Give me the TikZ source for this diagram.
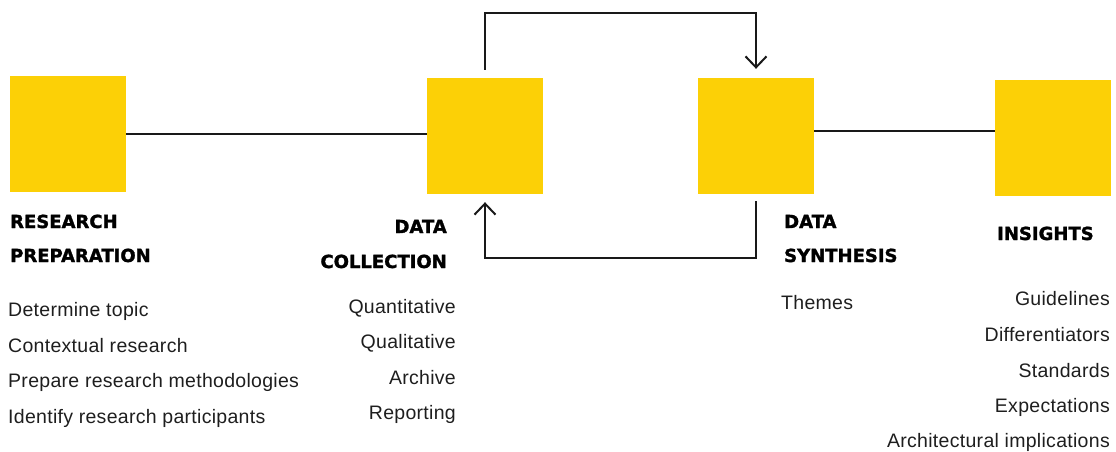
\documentclass[tikz,border=0pt]{standalone}
\usepackage{fontspec}
\usetikzlibrary{arrows.meta}
\newfontfamily\headfont[FakeBold=1.6]{DejaVu Sans Bold}
\newfontfamily\bodyfont[LetterSpace=1.5]{Liberation Sans}
\definecolor{boxyellow}{RGB}{252,208,6}
\definecolor{bodygray}{RGB}{30,30,30}
\tikzset{
  stage/.style={fill=boxyellow, draw=none, minimum width=116pt, minimum height=116pt, inner sep=0pt},
  conn/.style={draw=black!90, line width=2pt},
  flow/.style={conn, -{Straight Barb[length=11pt,width=21pt,line width=2pt]}},
  head/.style={inner sep=0pt, font=\headfont\fontsize{18}{20}\selectfont, text=black},
  item/.style={inner sep=0pt, font=\bodyfont\fontsize{19.5}{21}\selectfont, text=bodygray},
}
\begin{document}
\begin{tikzpicture}[x=1pt,y=-1pt]
\useasboundingbox (0,0) rectangle (1116,452);
% boxes
\node[stage] (rp) at (68,134) {};
\node[stage] (dc) at (485,136) {};
\node[stage] (ds) at (756,136) {};
\node[stage] (in) at (1053,138) {};
% connectors
\draw[conn] (rp.east |- 0,134) -- (dc.west |- 0,134);
\draw[conn] (ds.east |- 0,131) -- (in.west |- 0,131);
\draw[flow] ([yshift=8pt]dc.north) -- ([yshift=65pt]dc.north) -| ([yshift=9pt]ds.north);
\draw[flow] ([yshift=-7pt]ds.south) -- ([yshift=-64pt]ds.south) -| ([yshift=-8pt]dc.south);
% headings
\node[head, anchor=base west] (h1a) at (10,228) {RESEARCH};
\node[head, anchor=base west] (h1b) at (10,262) {PREPARATION};
\node[head, anchor=base east] (h2a) at (447,233) {DATA};
\node[head, anchor=base east] (h2b) at (447,268) {COLLECTION};
\node[head, anchor=base west] (h3a) at (784,228) {DATA};
\node[head, anchor=base west] (h3b) at (784,262) {SYNTHESIS};
\node[head, anchor=base west] (h4) at (997,240) {INSIGHTS};
% research preparation items
\node[item, anchor=base west] (a1) at (8,316) {Determine topic};
\node[item, anchor=base west] (a2) at (8,352) {Contextual research};
\node[item, anchor=base west] (a3) at (8,387) {Prepare research methodologies};
\node[item, anchor=base west] (a4) at (8,423) {Identify research participants};
% data collection items
\node[item, anchor=base east] (b1) at (456,313) {Quantitative};
\node[item, anchor=base east] (b2) at (456,348) {Qualitative};
\node[item, anchor=base east] (b3) at (456,384) {Archive};
\node[item, anchor=base east] (b4) at (456,419) {Reporting};
% data synthesis items
\node[item, anchor=base west] (c1) at (781,309) {Themes};
% insights items
\node[item, anchor=base east] (d1) at (1110,305) {Guidelines};
\node[item, anchor=base east] (d2) at (1110,341) {Differentiators};
\node[item, anchor=base east] (d3) at (1110,377) {Standards};
\node[item, anchor=base east] (d4) at (1110,412) {Expectations};
\node[item, anchor=base east] (d5) at (1110,447) {Architectural implications};
\end{tikzpicture}
\end{document}
